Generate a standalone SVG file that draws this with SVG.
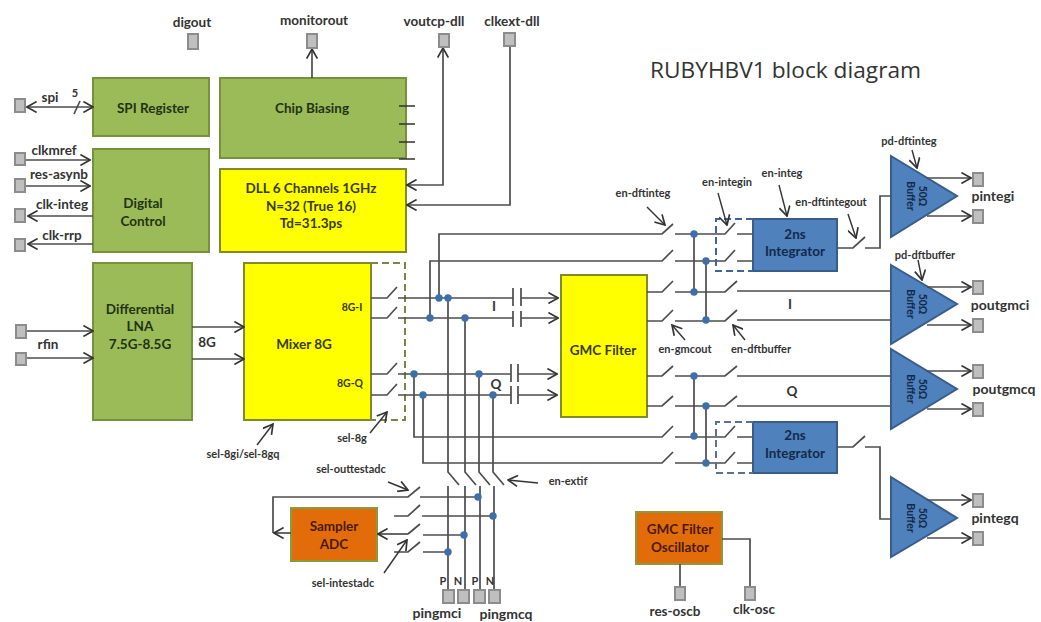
<svg xmlns="http://www.w3.org/2000/svg" width="1041" height="622" viewBox="0 0 1041 622">
<style>
text{font-family:"Lato","Open Sans","Liberation Sans",sans-serif;font-weight:700;fill:#333;text-anchor:middle}
.l{font-size:13.5px}
.s{font-size:11px}
.b{font-size:13.5px;fill:#1f3310}
.y{fill:#3a3a10;font-size:13.5px}
.m{fill:#3a3a10;font-size:10.5px}
.bl{fill:#14294a;font-size:13.5px}
.o{fill:#4a1a08;font-size:13.5px}
.p{font-size:14px}
.tt{font-size:10.5px;fill:#14294a}
.t{font-size:22.7px;font-weight:400;fill:#333;text-anchor:start;font-family:"Open Sans","Liberation Sans",sans-serif}
.g{fill:#9bbb59;stroke:#76923c;stroke-width:2}
.ye{fill:#ffff00;stroke:#7f8a2c;stroke-width:2}
.bu{fill:#4f81bd;stroke:#385d8a;stroke-width:2}
.or{fill:#e36c0a;stroke:#8a9a3c;stroke-width:2}
.pad{fill:#bfbfbf;stroke:#8c8c8c;stroke-width:2}
#connectors path{fill:none;stroke:#4d4d4d;stroke-width:1.7}
#connectors .ann{stroke:#333;stroke-width:1.4}
#connectors .dg{stroke:#76874a;stroke-width:2;stroke-dasharray:7 4}
#connectors .db{stroke:#3b64a0;stroke-width:2;stroke-dasharray:7 4}
#connectors .dc{stroke:#5a7290;stroke-width:2;stroke-dasharray:7 4}
#connectors .tk{stroke:#333;stroke-width:1.4}
.j{fill:#3f6fa8;stroke:none}
</style>
<defs>
<marker id="a" viewBox="0 0 10 10" refX="9" refY="5" markerWidth="12" markerHeight="12" markerUnits="userSpaceOnUse" orient="auto-start-reverse"><path d="M1 .5L9 5L1 9.5" fill="none" stroke="#333" stroke-width="1.4"/></marker>
<circle id="jn" r="3.7" class="j"/>
</defs>
<rect width="1041" height="622" fill="#fff"/>
<text class="t" x="650" y="78">RUBYHBV1 block diagram</text>

<g id="spi"><rect class="g" x="93" y="78" width="116" height="58"/><text class="b" x="153" y="113">SPI Register</text></g>
<g id="biasing"><rect class="g" x="220" y="78" width="186" height="80"/><text class="b" x="312" y="113">Chip Biasing</text></g>
<g id="digital"><rect class="g" x="93" y="149" width="116" height="103"/><text class="b" x="143" y="208">Digital</text><text class="b" x="143" y="226">Control</text></g>
<g id="dll"><rect class="ye" x="220" y="169" width="186" height="83"/><text class="y" x="311" y="193">DLL 6 Channels 1GHz</text><text class="y" x="311" y="211">N=32 (True 16)</text><text class="y" x="311" y="228">Td=31.3ps</text></g>
<g id="lna"><rect class="g" x="93" y="263" width="99" height="157"/><text class="b" x="140" y="314">Differential</text><text class="b" x="140" y="331">LNA</text><text class="b" x="140" y="349">7.5G-8.5G</text></g>
<g id="mixer"><rect class="ye" x="244" y="263" width="127" height="157"/><text class="y" x="304" y="349">Mixer 8G</text><text class="m" x="352" y="311">8G-I</text><text class="m" x="350" y="387">8G-Q</text></g>
<g id="gmc"><rect class="ye" x="561" y="275" width="86" height="142"/><text class="y" x="603" y="355">GMC Filter</text></g>
<g id="int1"><rect class="bu" x="753" y="219" width="84" height="52"/><text class="bl" x="795" y="239">2ns</text><text class="bl" x="795" y="256">Integrator</text></g>
<g id="int2"><rect class="bu" x="753" y="422" width="84" height="51"/><text class="bl" x="795" y="440">2ns</text><text class="bl" x="795" y="458">Integrator</text></g>
<g id="buf1"><path class="bu" d="M891 156L957 196L891 237Z"/><text class="tt" transform="translate(919 196) rotate(90)">50Ω</text><text class="tt" transform="translate(907 196) rotate(90)">Buffer</text></g>
<g id="buf2"><path class="bu" d="M891 265L957 304L891 344Z"/><text class="tt" transform="translate(919 304) rotate(90)">50Ω</text><text class="tt" transform="translate(907 304) rotate(90)">Buffer</text></g>
<g id="buf3"><path class="bu" d="M891 349L957 389L891 429Z"/><text class="tt" transform="translate(919 389) rotate(90)">50Ω</text><text class="tt" transform="translate(907 389) rotate(90)">Buffer</text></g>
<g id="buf4"><path class="bu" d="M891 477L957 518L891 557Z"/><text class="tt" transform="translate(919 518) rotate(90)">50Ω</text><text class="tt" transform="translate(907 518) rotate(90)">Buffer</text></g>
<g id="sampler"><rect class="or" x="291" y="508" width="86" height="53"/><text class="o" x="334" y="531">Sampler</text><text class="o" x="334" y="549">ADC</text></g>
<g id="osc"><rect class="or" x="636" y="512" width="86" height="52"/><text class="o" x="680" y="534">GMC Filter</text><text class="o" x="680" y="552">Oscillator</text></g>

<g id="connectors">
<path d="M312 78V49" marker-end="url(#a)"/>
<path d="M27 107H93" marker-start="url(#a)" marker-end="url(#a)"/>
<path d="M74 114L80 101"/>
<path d="M26 160H90" marker-end="url(#a)"/>
<path d="M26 186H90" marker-end="url(#a)"/>
<path d="M93 216H28" marker-end="url(#a)"/>
<path d="M93 244H28" marker-end="url(#a)"/>
<path d="M27 331H93" marker-end="url(#a)"/>
<path d="M27 358H93" marker-end="url(#a)"/>
<path d="M192 327H244" marker-end="url(#a)"/>
<path d="M192 359H244" marker-end="url(#a)"/>
<path class="tk" d="M399 106H415M399 124H415M399 142H415M399 159H415"/>
<path d="M443 48V185H407" marker-start="url(#a)" marker-end="url(#a)"/>
<path d="M510 47V205H407" marker-end="url(#a)"/>
<path class="dg" d="M371 263H405V420H371"/>
<path d="M371 298H387L397 287M398 298H513M521 298H558" marker-end="url(#a)"/>
<path d="M371 318H387L397 307M398 318H513M521 318H558" marker-end="url(#a)"/>
<path d="M371 374H387L397 363M398 374H511M518 374H557" marker-end="url(#a)"/>
<path d="M371 395H387L397 384M398 395H511M518 395H557" marker-end="url(#a)"/>
<path d="M513 288V306M521 288V306M513 311V327M521 311V327M511 364V382M518 364V382M511 386V404M518 386V404"/>
<path d="M439 298V234H662L673 224M675 234H725L735 223M737 234H753"/>
<path d="M430 318V261H662L673 250M675 261H725L735 250M737 261H753"/>
<path d="M414 374V437H662L673 426M675 437H725L735 426M737 437H753"/>
<path d="M423 395V463H662L673 452M675 463H725L735 452M737 463H753"/>
<path d="M647 292H662L673 281M675 292H725L737 281M737 291H891"/>
<path d="M647 321H662L673 310M675 321H725L737 310M737 320H891"/>
<path d="M647 376H662L673 366M675 376H725L737 366M737 376H891"/>
<path d="M647 406H662L673 396M675 406H725L737 396M737 406H891"/>
<path d="M694 234V292M706 261V321M694 376V437M706 406V463"/>
<path class="db" d="M753 219H716V271H753"/>
<path class="dc" d="M753 422H716V473H753"/>
<path d="M837 248H853L865 237M865 248H880V196H891"/>
<path d="M837 447H853L865 436M865 447H880V519H891"/>
<path d="M448 298V472L459 485M448 486V590"/>
<path d="M465 318V472L476 485M465 486V590"/>
<path d="M479 374V472L490 485M480 486V590"/>
<path d="M493 395V472L504 485M494 486V590"/>
<path d="M273 533V497H408L420 487M420 497H478"/>
<path d="M394 516H408L420 505M422 516H493"/>
<path d="M408 534H378" marker-end="url(#a)"/>
<path d="M408 534L420 524M423 535H464"/>
<path d="M394 552H408L420 542M423 552H448"/>
<path d="M291 533H274" marker-end="url(#a)"/>
<path d="M722 539H750V586M680 564V586"/>
<path d="M927 178H971" marker-end="url(#a)"/>
<path d="M927 216H971" marker-end="url(#a)"/>
<path d="M927 287H971" marker-end="url(#a)"/>
<path d="M927 325H971" marker-end="url(#a)"/>
<path d="M927 371H971" marker-end="url(#a)"/>
<path d="M927 409H971" marker-end="url(#a)"/>
<path d="M927 500H971" marker-end="url(#a)"/>
<path d="M927 538H971" marker-end="url(#a)"/>
<path class="ann" d="M647 207L665 225" marker-end="url(#a)"/>
<path class="ann" d="M718 193L727 225" marker-end="url(#a)"/>
<path class="ann" d="M779 185L787 216" marker-end="url(#a)"/>
<path class="ann" d="M848 214L856 238" marker-end="url(#a)"/>
<path class="ann" d="M912 150L917 168" marker-end="url(#a)"/>
<path class="ann" d="M918 260L922 280" marker-end="url(#a)"/>
<path class="ann" d="M685 340L672 325" marker-end="url(#a)"/>
<path class="ann" d="M745 340L733 325" marker-end="url(#a)"/>
<path class="ann" d="M370 433L387 412" marker-end="url(#a)"/>
<path class="ann" d="M257 445L273 424" marker-end="url(#a)"/>
<path class="ann" d="M388 482L408 490" marker-end="url(#a)"/>
<path class="ann" d="M384 573L407 540" marker-end="url(#a)"/>
<path class="ann" d="M538 483L508 480" marker-end="url(#a)"/>
</g>

<g id="junctions">
<use href="#jn" x="439" y="298"/><use href="#jn" x="448" y="298"/><use href="#jn" x="430" y="318"/><use href="#jn" x="465" y="318"/>
<use href="#jn" x="414" y="374"/><use href="#jn" x="479" y="374"/><use href="#jn" x="423" y="395"/><use href="#jn" x="493" y="395"/>
<use href="#jn" x="694" y="234"/><use href="#jn" x="706" y="261"/><use href="#jn" x="694" y="292"/><use href="#jn" x="706" y="320"/>
<use href="#jn" x="694" y="376"/><use href="#jn" x="706" y="406"/><use href="#jn" x="694" y="436"/><use href="#jn" x="706" y="463"/>
<use href="#jn" x="478" y="497"/><use href="#jn" x="493" y="516"/><use href="#jn" x="464" y="535"/><use href="#jn" x="448" y="552"/>
</g>

<g id="pads">
<rect class="pad" x="188" y="34" width="10" height="15"/><rect class="pad" x="307" y="34" width="10" height="14"/><rect class="pad" x="439" y="34" width="10" height="13"/><rect class="pad" x="504" y="33" width="11" height="13"/>
<rect class="pad" x="15" y="99" width="10" height="13"/><rect class="pad" x="15" y="153" width="10" height="12"/><rect class="pad" x="15" y="179" width="10" height="13"/><rect class="pad" x="15" y="209" width="10" height="13"/><rect class="pad" x="15" y="239" width="10" height="12"/>
<rect class="pad" x="16" y="325" width="10" height="13"/><rect class="pad" x="16" y="353" width="10" height="12"/>
<rect class="pad" x="973" y="173" width="10" height="13"/><rect class="pad" x="973" y="210" width="10" height="13"/><rect class="pad" x="973" y="281" width="10" height="13"/><rect class="pad" x="973" y="319" width="10" height="13"/>
<rect class="pad" x="973" y="365" width="10" height="13"/><rect class="pad" x="973" y="403" width="10" height="13"/><rect class="pad" x="973" y="494" width="10" height="13"/><rect class="pad" x="973" y="532" width="10" height="13"/>
<rect class="pad" x="443" y="590" width="11" height="13"/><rect class="pad" x="458" y="590" width="11" height="13"/><rect class="pad" x="474" y="590" width="11" height="13"/><rect class="pad" x="489" y="590" width="11" height="13"/>
<rect class="pad" x="675" y="587" width="10" height="13"/><rect class="pad" x="745" y="587" width="10" height="13"/>
</g>

<g id="labels">
<text class="l" x="192" y="27">digout</text><text class="l" x="314" y="25">monitorout</text><text class="l" x="434" y="26">voutcp-dll</text><text class="l" x="512" y="26">clkext-dll</text>
<text class="l" x="50" y="102">spi</text><text class="s" x="75" y="97">5</text><text class="l" x="54" y="155">clkmref</text><text class="l" x="59" y="179">res-asynb</text><text class="l" x="62" y="209">clk-integ</text><text class="l" x="62" y="240">clk-rrp</text>
<text class="l" x="48" y="349">rfin</text><text class="l" x="207" y="347">8G</text>
<text class="l" x="494" y="311">I</text><text class="l" x="496" y="389">Q</text><text class="l" x="790" y="309">I</text><text class="l" x="792" y="396">Q</text>
<text class="s" x="643" y="197">en-dftinteg</text><text class="s" x="727" y="186">en-integin</text><text class="s" x="782" y="177">en-integ</text><text class="s" x="831" y="206">en-dftintegout</text><text class="s" x="909" y="145">pd-dftinteg</text><text class="s" x="925" y="259">pd-dftbuffer</text>
<text class="s" x="685" y="353">en-gmcout</text><text class="s" x="761" y="353">en-dftbuffer</text>
<text class="s" x="352" y="442">sel-8g</text><text class="s" x="243" y="458">sel-8gi/sel-8gq</text><text class="s" x="351" y="473">sel-outtestadc</text><text class="s" x="343" y="587">sel-intestadc</text><text class="s" x="568" y="485">en-extif</text>
<text class="s" x="443" y="585">P</text><text class="s" x="458" y="585">N</text><text class="s" x="475" y="585">P</text><text class="s" x="490" y="585">N</text>
<text class="p" x="437" y="618">pingmci</text><text class="p" x="506" y="619">pingmcq</text>
<text class="l" x="675" y="616">res-oscb</text><text class="l" x="754" y="614">clk-osc</text>
<text class="p" x="993" y="201">pintegi</text><text class="p" x="1000" y="310">poutgmci</text><text class="p" x="1004" y="394">poutgmcq</text><text class="p" x="995" y="523">pintegq</text>
</g>
</svg>
